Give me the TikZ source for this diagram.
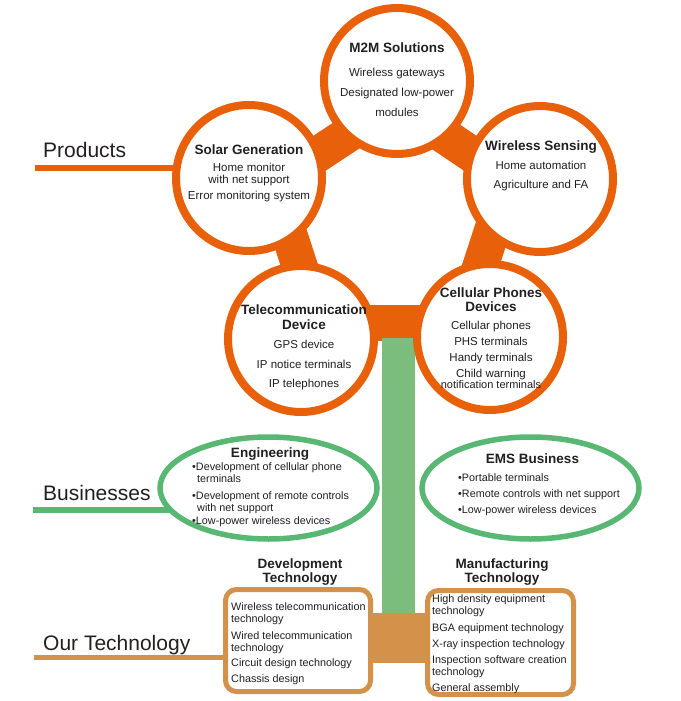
\documentclass[tikz,border=0pt]{standalone}
\usepackage{fontspec}
\setmainfont{Liberation Sans}
\usetikzlibrary{shapes.geometric,backgrounds}
\definecolor{org}{HTML}{E8600A}
\definecolor{grn}{HTML}{58B773}
\definecolor{trunk}{HTML}{7BBD7C}
\definecolor{brn}{HTML}{D4914A}
\definecolor{txt}{HTML}{231F20}
\begin{document}
\begin{tikzpicture}[x=1pt,y=-1pt,
  every node/.style={text=txt, inner sep=0pt},
  ring/.style={circle, draw=org, line width=8pt, fill=white, minimum size=146pt},
  ell/.style={ellipse, draw=grn, line width=5.5pt, fill=white, minimum width=217pt, minimum height=102pt},
  tbox/.style={rectangle, rounded corners=11pt, draw=brn, line width=5pt, fill=white},
  band/.style={org, line width=36pt},
  ttl/.style={font=\fontsize{13.5}{15}\selectfont\bfseries, anchor=base},
  cb/.style={font=\fontsize{11.5}{12}\selectfont, anchor=base},
  bb/.style={font=\fontsize{10.8}{12}\selectfont, anchor=base west},
  side/.style={font=\fontsize{21}{24}\selectfont, anchor=base west}]
\useasboundingbox (0,0) rectangle (680,701);
% product circles
\node[ring] (m2m) at (397,81) {};
\node[ring] (solar) at (249,178) {};
\node[ring] (wire) at (540,179) {};
\node[ring] (cell) at (490,337) {};
\node[ring] (tele) at (301,339) {};
% business ellipses
\node[ell] (eng) at (268.5,488) {};
\node[ell] (ems) at (530.5,488) {};
% technology boxes
\node[tbox, minimum width=145pt, minimum height=102pt] (dev) at (298,640.5) {};
\node[tbox, minimum width=146pt, minimum height=104pt] (man) at (500.5,642.5) {};
\begin{scope}[on background layer]
  % bands joining neighbouring circles (ends hidden under the circles)
  \coordinate (b1a) at (297,168); \coordinate (b1b) at (373,118);
  \coordinate (b2a) at (421,120); \coordinate (b2b) at (495,170);
  \coordinate (b3a) at (502,200); \coordinate (b3b) at (474,286);
  \coordinate (b4a) at (282,212); \coordinate (b4b) at (310,298);
  \draw[band] (b1a) -- (b1b);
  \draw[band] (b2a) -- (b2b);
  \draw[band] (b3a) -- (b3b);
  \draw[band] (b4a) -- (b4b);
  \fill[org] (340,305) rectangle (450,341);
  \fill[trunk] (382,338) rectangle (415,614);
  \fill[brn] (368,613) rectangle (430,663);
  \coordinate (pl) at (35,168);
  \coordinate (bl) at (33,510);
  \coordinate (tl) at (34,657.5);
  \draw[org, line width=6.5pt] (pl) -- (pl -| solar.center);
  \draw[grn, line width=6pt] (bl) -- (bl -| eng.center);
  \draw[brn, line width=5.5pt] (tl) -- (tl -| dev.center);
\end{scope}
% side labels
\node[side] (lp) at (43,157) {Products};
\node[side] (lb) at (43,500) {Businesses};
\node[side] (lt) at (43,650) {Our Technology};
% M2M
\node[ttl] (m2mt) at (397,52.5) {M2M Solutions};
\node[cb] (m2ma) at (397,76.5) {Wireless gateways};
\node[cb] (m2mb) at (397,96.5) {Designated low-power};
\node[cb] (m2mc) at (397,116.5) {modules};
% Solar
\node[ttl] (solt) at (249,154) {Solar Generation};
\node[cb] (sola) at (249,171.5) {Home monitor};
\node[cb] (solb) at (249,183.5) {with net support};
\node[cb] (solc) at (249,199.5) {Error monitoring system};
% Wireless sensing
\node[ttl] (wirt) at (541,150) {Wireless Sensing};
\node[cb] (wira) at (541,169) {Home automation};
\node[cb] (wirb) at (541,188.5) {Agriculture and FA};
% Cellular
\node[ttl] (celt) at (491,297) {Cellular Phones};
\node[ttl] (celu) at (491,311) {Devices};
\node[cb] (cela) at (491,329) {Cellular phones};
\node[cb] (celb) at (491,345.5) {PHS terminals};
\node[cb] (celc) at (491,361.5) {Handy terminals};
\node[cb] (celd) at (491,377) {Child warning};
\node[cb, font=\fontsize{11}{12}\selectfont] (cele) at (491,388) {notification terminals};
% Telecom
\node[ttl] (telt) at (304,314) {Telecommunication};
\node[ttl] (telu) at (304,329) {Device};
\node[cb] (tela) at (304,348) {GPS device};
\node[cb] (telb) at (304,368) {IP notice terminals};
\node[cb] (telc) at (304,387) {IP telephones};
% Engineering
\node[ttl] (engt) at (270,457) {Engineering};
\node[bb] (enga) at (192,470) {•Development of cellular phone};
\node[bb] (engb) at (197,482) {terminals};
\node[bb] (engc) at (192,499) {•Development of remote controls};
\node[bb] (engd) at (197,511) {with net support};
\node[bb] (enge) at (192,524) {•Low-power wireless devices};
% EMS
\node[ttl] (emst) at (532.5,463) {EMS Business};
\node[bb] (emsa) at (458,481) {•Portable terminals};
\node[bb] (emsb) at (458,497) {•Remote controls with net support};
\node[bb] (emsc) at (458,513) {•Low-power wireless devices};
% Development technology
\node[ttl] (devt) at (300,568) {Development};
\node[ttl] (devu) at (300,582) {Technology};
\node[bb] (deva) at (231,610.5) {Wireless telecommunication};
\node[bb] (devb) at (231,622) {technology};
\node[bb] (devc) at (231,639) {Wired telecommunication};
\node[bb] (devd) at (231,651) {technology};
\node[bb] (deve) at (231,666) {Circuit design technology};
\node[bb] (devf) at (231,682) {Chassis design};
% Manufacturing technology
\node[ttl] (mant) at (502,568) {Manufacturing};
\node[ttl] (manu) at (502,582) {Technology};
\node[bb] (mana) at (432,602) {High density equipment};
\node[bb] (manb) at (432,614) {technology};
\node[bb] (manc) at (432,631) {BGA equipment technology};
\node[bb] (mand) at (432,647) {X-ray inspection technology};
\node[bb] (mane) at (432,663) {Inspection software creation};
\node[bb] (manf) at (432,675) {technology};
\node[bb] (mang) at (432,691) {General assembly};
\end{tikzpicture}
\end{document}
